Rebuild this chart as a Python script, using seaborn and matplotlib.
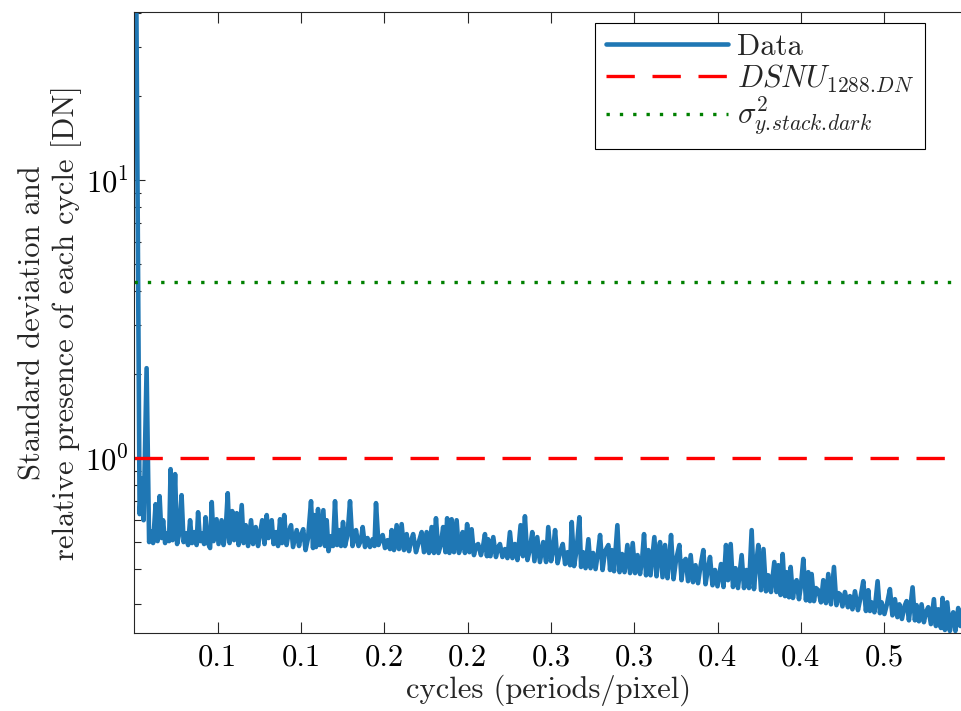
import matplotlib
matplotlib.use("Agg")
import matplotlib.pyplot as plt
from matplotlib.ticker import FixedLocator, NullFormatter, LogLocator
import pandas as pd
import seaborn as sns

# spectrum (cycles vs DN)
freq = [
    0.0010, 0.0031, 0.0044, 0.0055, 0.0073, 0.0088, 0.0100, 0.0112, 0.0127, 0.0139,
    0.0151, 0.0163, 0.0172, 0.0184, 0.0196, 0.0208, 0.0217, 0.0229, 0.0244, 0.0256,
    0.0268, 0.0283, 0.0295, 0.0310, 0.0322, 0.0334, 0.0346, 0.0361, 0.0373, 0.0382,
    0.0394, 0.0406, 0.0418, 0.0427, 0.0439, 0.0454, 0.0464, 0.0475, 0.0493, 0.0505,
    0.0523, 0.0535, 0.0547, 0.0560, 0.0571, 0.0587, 0.0598, 0.0614, 0.0625, 0.0644,
    0.0655, 0.0668, 0.0682, 0.0700, 0.0712, 0.0728, 0.0742, 0.0754, 0.0767, 0.0781,
    0.0794, 0.0805, 0.0824, 0.0835, 0.0850, 0.0862, 0.0874, 0.0886, 0.0899, 0.0913,
    0.0925, 0.0940, 0.0952, 0.0974, 0.0988, 0.1000, 0.1013, 0.1027, 0.1042, 0.1060,
    0.1072, 0.1079, 0.1090, 0.1102, 0.1114, 0.1134, 0.1144, 0.1154, 0.1165, 0.1180,
    0.1192, 0.1204, 0.1216, 0.1228, 0.1240, 0.1252, 0.1264, 0.1279, 0.1294, 0.1309,
    0.1321, 0.1330, 0.1345, 0.1360, 0.1370, 0.1384, 0.1399, 0.1414, 0.1429, 0.1441,
    0.1450, 0.1465, 0.1477, 0.1490, 0.1504, 0.1519, 0.1534, 0.1544, 0.1558, 0.1574,
    0.1588, 0.1604, 0.1618, 0.1634, 0.1648, 0.1660, 0.1673, 0.1690, 0.1705, 0.1724,
    0.1738, 0.1754, 0.1768, 0.1784, 0.1798, 0.1810, 0.1825, 0.1840, 0.1853, 0.1867,
    0.1877, 0.1891, 0.1904, 0.1918, 0.1934, 0.1948, 0.1960, 0.1970, 0.1984, 0.1997,
    0.2011, 0.2024, 0.2038, 0.2050, 0.2063, 0.2080, 0.2092, 0.2104, 0.2116, 0.2123,
    0.2137, 0.2154, 0.2170, 0.2182, 0.2194, 0.2209, 0.2224, 0.2239, 0.2254, 0.2269,
    0.2284, 0.2299, 0.2318, 0.2332, 0.2344, 0.2359, 0.2374, 0.2388, 0.2401, 0.2418,
    0.2434, 0.2454, 0.2471, 0.2484, 0.2501, 0.2513, 0.2525, 0.2540, 0.2555, 0.2571,
    0.2585, 0.2600, 0.2615, 0.2625, 0.2639, 0.2654, 0.2671, 0.2681, 0.2693, 0.2708,
    0.2725, 0.2738, 0.2753, 0.2768, 0.2783, 0.2795, 0.2810, 0.2825, 0.2845, 0.2855,
    0.2865, 0.2879, 0.2899, 0.2912, 0.2927, 0.2942, 0.2959, 0.2975, 0.2991, 0.3005,
    0.3020, 0.3035, 0.3047, 0.3059, 0.3071, 0.3085, 0.3098, 0.3110, 0.3121, 0.3134,
    0.3146, 0.3155, 0.3170, 0.3185, 0.3200, 0.3212, 0.3221, 0.3236, 0.3251, 0.3271,
    0.3284, 0.3296, 0.3309, 0.3323, 0.3339, 0.3353, 0.3368, 0.3383, 0.3398, 0.3415,
    0.3428, 0.3443, 0.3455, 0.3470, 0.3485, 0.3500, 0.3521, 0.3536, 0.3551, 0.3563,
    0.3579, 0.3593, 0.3608, 0.3623, 0.3645, 0.3659, 0.3674, 0.3689, 0.3705, 0.3719,
    0.3731, 0.3745, 0.3761, 0.3776, 0.3791, 0.3805, 0.3821, 0.3841, 0.3854, 0.3865,
    0.3878, 0.3891, 0.3905, 0.3915, 0.3929, 0.3939, 0.3953, 0.3965, 0.3975, 0.3989,
    0.4001, 0.4015, 0.4031, 0.4045, 0.4055, 0.4065, 0.4079, 0.4091, 0.4105, 0.4121,
    0.4135, 0.4151, 0.4165, 0.4181, 0.4199, 0.4214, 0.4226, 0.4235, 0.4250, 0.4265,
    0.4283, 0.4295, 0.4310, 0.4325, 0.4343, 0.4358, 0.4375, 0.4391, 0.4405, 0.4415,
    0.4425, 0.4442, 0.4461, 0.4475, 0.4485, 0.4502, 0.4517, 0.4535, 0.4550, 0.4565,
    0.4580, 0.4592, 0.4607, 0.4622, 0.4635, 0.4649, 0.4671, 0.4685, 0.4695, 0.4709,
    0.4725, 0.4739, 0.4751, 0.4765, 0.4781, 0.4799, 0.4811, 0.4825, 0.4841, 0.4851,
    0.4865, 0.4879, 0.4895, 0.4904, 0.4915, 0.4928, 0.4945, 0.4958, 0.4973,
]
amp = [
    60.0, 0.629, 0.847, 0.598, 2.107, 0.499, 0.546, 0.495, 0.683, 0.503,
    0.730, 0.516, 0.598, 0.495, 0.537, 0.503, 0.913, 0.507, 0.876, 0.491,
    0.533, 0.736, 0.499, 0.537, 0.487, 0.598, 0.495, 0.542, 0.487, 0.639,
    0.503, 0.537, 0.491, 0.613, 0.499, 0.475, 0.695, 0.503, 0.603, 0.491,
    0.598, 0.487, 0.542, 0.748, 0.495, 0.645, 0.507, 0.634, 0.487, 0.678,
    0.495, 0.574, 0.483, 0.598, 0.491, 0.565, 0.483, 0.537, 0.598, 0.491,
    0.624, 0.516, 0.598, 0.491, 0.542, 0.483, 0.603, 0.495, 0.624, 0.487,
    0.537, 0.574, 0.479, 0.551, 0.483, 0.529, 0.555, 0.467, 0.516, 0.700,
    0.475, 0.624, 0.479, 0.656, 0.487, 0.650, 0.483, 0.598, 0.463, 0.524,
    0.483, 0.700, 0.487, 0.551, 0.483, 0.589, 0.483, 0.529, 0.700, 0.483,
    0.516, 0.551, 0.483, 0.507, 0.565, 0.479, 0.516, 0.479, 0.511, 0.483,
    0.689, 0.487, 0.511, 0.529, 0.475, 0.507, 0.471, 0.551, 0.467, 0.574,
    0.471, 0.579, 0.467, 0.533, 0.463, 0.503, 0.533, 0.459, 0.495, 0.542,
    0.459, 0.542, 0.456, 0.565, 0.456, 0.608, 0.456, 0.491, 0.565, 0.459,
    0.608, 0.456, 0.603, 0.459, 0.598, 0.456, 0.487, 0.542, 0.456, 0.579,
    0.459, 0.555, 0.448, 0.483, 0.491, 0.448, 0.479, 0.533, 0.444, 0.511,
    0.444, 0.520, 0.441, 0.475, 0.491, 0.441, 0.471, 0.437, 0.542, 0.437,
    0.491, 0.430, 0.574, 0.444, 0.618, 0.430, 0.471, 0.542, 0.426, 0.520,
    0.423, 0.499, 0.423, 0.565, 0.426, 0.467, 0.551, 0.419, 0.459, 0.491,
    0.416, 0.459, 0.412, 0.589, 0.409, 0.467, 0.613, 0.406, 0.459, 0.402,
    0.511, 0.402, 0.456, 0.399, 0.459, 0.529, 0.396, 0.463, 0.487, 0.396,
    0.467, 0.392, 0.574, 0.389, 0.452, 0.389, 0.487, 0.386, 0.495, 0.386,
    0.448, 0.383, 0.430, 0.533, 0.379, 0.467, 0.379, 0.448, 0.520, 0.376,
    0.467, 0.499, 0.373, 0.487, 0.370, 0.444, 0.529, 0.367, 0.430, 0.487,
    0.364, 0.423, 0.434, 0.361, 0.448, 0.358, 0.412, 0.355, 0.409, 0.467,
    0.352, 0.402, 0.441, 0.349, 0.396, 0.346, 0.416, 0.344, 0.487, 0.364,
    0.491, 0.344, 0.402, 0.341, 0.448, 0.341, 0.396, 0.341, 0.551, 0.338,
    0.409, 0.487, 0.335, 0.471, 0.332, 0.379, 0.330, 0.423, 0.330, 0.412,
    0.322, 0.452, 0.319, 0.389, 0.316, 0.406, 0.314, 0.355, 0.364, 0.311,
    0.349, 0.434, 0.308, 0.389, 0.306, 0.383, 0.306, 0.341, 0.335, 0.303,
    0.364, 0.301, 0.383, 0.298, 0.406, 0.296, 0.327, 0.324, 0.293, 0.330,
    0.291, 0.319, 0.286, 0.332, 0.284, 0.314, 0.361, 0.282, 0.335, 0.282,
    0.303, 0.279, 0.361, 0.277, 0.303, 0.275, 0.298, 0.338, 0.272, 0.311,
    0.268, 0.298, 0.264, 0.293, 0.306, 0.261, 0.343, 0.261, 0.296, 0.259,
    0.298, 0.257, 0.279, 0.291, 0.253, 0.311, 0.249, 0.286, 0.245, 0.314,
    0.241, 0.303, 0.239, 0.266, 0.279, 0.239, 0.289, 0.249, 0.272,
]

dsnu_level = 1.0
sigma_level = 4.3

xticks = [0.05, 0.10, 0.15, 0.20, 0.25, 0.30, 0.35, 0.40, 0.45]
xtick_labels = ["0.1", "0.1", "0.2", "0.2", "0.3", "0.3", "0.4", "0.4", "0.5"]

sns.set_theme(style="ticks")
plt.rcParams["font.family"] = "serif"
plt.rcParams["font.serif"] = ["cmr10"]
plt.rcParams["mathtext.fontset"] = "cm"
plt.rcParams["axes.formatter.use_mathtext"] = True
plt.rcParams["font.size"] = 22

df = pd.DataFrame({"freq": freq, "amp": amp})

fig = plt.figure(figsize=(9.61, 7.11), dpi=100)
ax = fig.add_axes([0.1399, 0.1097, 0.8612, 0.8741])

sns.lineplot(data=df, x="freq", y="amp", sort=False, estimator=None,
             color="#1f77b4", lw=3.3, ax=ax, label="Data")
ax.axhline(dsnu_level, color="#ff0000", lw=2.4, dashes=(8.5, 5.3),
           label=r"$DSNU_{1288.\!DN}$")
ax.axhline(sigma_level, color="#008000", lw=2.4, dashes=(1, 3),
           label=r"$\sigma^2_{y.\!stack.\!dark}$")

ax.set_yscale("log")
ax.set_xlim(0, 0.4968)
ax.set_ylim(0.235, 40.4)

ax.set_xticks(xticks)
ax.set_xticklabels(xtick_labels)
ax.yaxis.set_major_locator(FixedLocator([1, 10]))
ax.yaxis.set_minor_locator(LogLocator(base=10, subs=range(2, 10)))
ax.yaxis.set_minor_formatter(NullFormatter())

ax.tick_params(which="both", direction="in", top=True, right=False,
               colors="#262626", labelcolor="black", labelsize=22, width=0.8)
ax.tick_params(which="major", length=8)
ax.tick_params(axis="x", which="major", pad=8)
ax.tick_params(axis="y", which="major", pad=4)
ax.tick_params(which="minor", length=5)
for side in ["left", "top", "bottom"]:
    ax.spines[side].set_color("#262626")
    ax.spines[side].set_linewidth(0.8)
ax.spines["right"].set_visible(False)

ax.set_xlabel("cycles (periods/pixel)", fontsize=22, labelpad=2)
ax.set_ylabel("Standard deviation and\nrelative presence of each cycle [DN]",
              fontsize=22, multialignment="center", labelpad=2)

leg = ax.legend(loc="upper right", bbox_to_anchor=(925 / 961, 1 - 22.7 / 711),
                bbox_transform=fig.transFigure, borderaxespad=0,
                fontsize=22, handlelength=4.0, handletextpad=0.3,
                borderpad=0.35, labelspacing=0.05, fancybox=False,
                framealpha=1, edgecolor="black")
leg.get_frame().set_linewidth(0.8)

fig.savefig("out.png", dpi=100)
